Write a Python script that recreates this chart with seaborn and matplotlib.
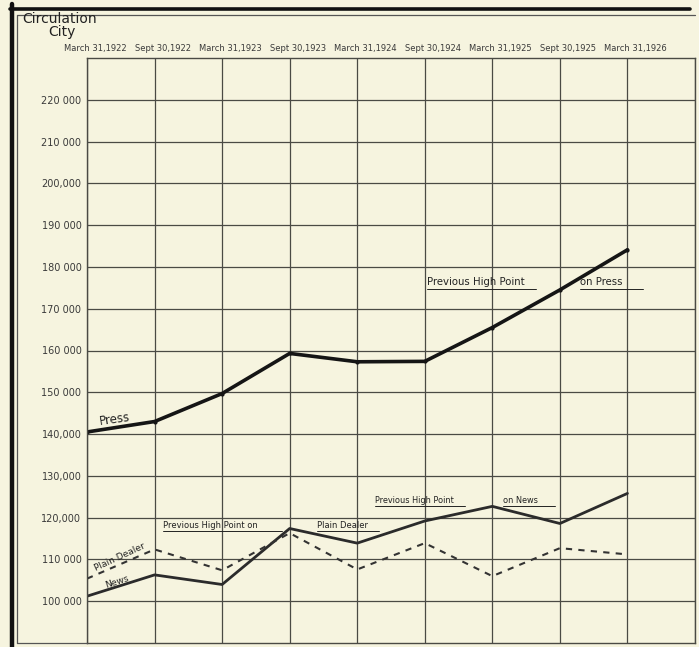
import pandas as pd
import seaborn as sns
import matplotlib.pyplot as plt
from matplotlib.lines import Line2D

# dates along the top of the sheet
dates = ["March 31,1922", "Sept 30,1922", "March 31,1923", "Sept 30,1923",
         "March 31,1924", "Sept 30,1924", "March 31,1925", "Sept 30,1925",
         "March 31,1926"]

# city circulation
press = [140500, 143000, 149700, 159300, 157300, 157400, 165500, 174500, 184100]
news = [101200, 106300, 104000, 117400, 113900, 119200, 122700, 118600, 125800]
plain_dealer = [105400, 112400, 107400, 116300, 107600, 113900, 106000, 112700, 111200]

y_ticks = [100000, 110000, 120000, 130000, 140000, 150000, 160000,
           170000, 180000, 190000, 200000, 210000, 220000]
y_labels = ["100 000", "110 000", "120,000", "130,000", "140,000", "150 000",
            "160 000", "170 000", "180 000", "190 000", "200,000", "210 000",
            "220 000"]

paper_bg = "#f6f4df"
ink = "#222222"

df = pd.DataFrame({
    "period": list(range(len(dates))) * 3,
    "value": press + news + plain_dealer,
    "paper": ["Press"] * 9 + ["News"] * 9 + ["Plain Dealer"] * 9,
})

sns.set_theme(style="white")
plt.rcParams["font.family"] = ["DejaVu Sans"]

fig = plt.figure(figsize=(6.99, 6.47), dpi=100, facecolor=paper_bg)
ax = fig.add_axes([87 / 699, 4 / 647, 608 / 699, 585 / 647])
ax.set_facecolor(paper_bg)

sns.lineplot(data=df[df.paper == "Press"], x="period", y="value", ax=ax,
             color="#151515", linewidth=2.6, marker="o", markersize=3,
             markeredgewidth=0)
sns.lineplot(data=df[df.paper == "News"], x="period", y="value", ax=ax,
             color="#2b2b2b", linewidth=2.0)
sns.lineplot(data=df[df.paper == "Plain Dealer"], x="period", y="value", ax=ax,
             color="#333333", linewidth=1.5, linestyle=(0, (3, 3)))

ax.set_xlim(0, 9)
ax.set_ylim(90000, 230000)
ax.set_xticks(range(10))
ax.set_yticks(y_ticks)
ax.set_yticklabels(y_labels, fontsize=7, color="#3a3a3a")
ax.tick_params(axis="x", length=0, labelbottom=False, labeltop=False)
ax.tick_params(axis="y", length=0, pad=4)
ax.grid(True, color="#4a4a44", linewidth=0.9)
ax.set_xlabel("")
ax.set_ylabel("")
for s in ax.spines.values():
    s.set_color("#4a4a44")
    s.set_linewidth(1.0)

top = ax.get_xaxis_transform()
for i, d in enumerate(dates):
    ax.text(i + 0.12, 1.008, d, transform=top, ha="center", va="bottom",
            fontsize=6, color="#3a3a3a")

fig.text(22 / 699, 1 - 19 / 647, "Circulation", fontsize=10, color=ink,
         va="center", ha="left")
fig.text(48 / 699, 1 - 32 / 647, "City", fontsize=10, color=ink,
         va="center", ha="left")

# line names on the left
ax.text(0.41, 143600, "Press", fontsize=8.5, rotation=8, color=ink,
        ha="center", va="center")
ax.text(0.49, 110600, "Plain Dealer", fontsize=6.5, rotation=25, color=ink,
        ha="center", va="center")
ax.text(0.45, 104700, "News", fontsize=6.5, rotation=18, color=ink,
        ha="center", va="center")


def underlined(x0, x1, y, yline, text, size):
    ax.text(x0, y, text, fontsize=size, color=ink, ha="left", va="center")
    ax.plot([x0, x1], [yline, yline], color=ink, linewidth=0.7)


underlined(5.03, 6.65, 176300, 174600, "Previous High Point", 7.3)
underlined(7.30, 8.23, 176300, 174600, "on Press", 7.3)
underlined(4.26, 5.60, 124000, 122700, "Previous High Point", 5.9)
underlined(6.16, 6.93, 124000, 122700, "on News", 5.9)
underlined(1.12, 2.89, 118000, 116900, "Previous High Point on", 6.0)
underlined(3.40, 4.32, 118000, 116900, "Plain Dealer", 6.0)

# sheet border
fig.add_artist(Line2D([12 / 699, 12 / 699], [0, 1 - 4 / 647],
                      transform=fig.transFigure, color="#111111", linewidth=3.2))
fig.add_artist(Line2D([10 / 699, 690 / 699], [1 - 9 / 647, 1 - 9 / 647],
                      transform=fig.transFigure, color="#111111", linewidth=2.6))
fig.add_artist(Line2D([17 / 699, 17 / 699], [4 / 647, 1 - 15 / 647],
                      transform=fig.transFigure, color="#555555", linewidth=0.9))
fig.add_artist(Line2D([17 / 699, 695 / 699], [1 - 15 / 647, 1 - 15 / 647],
                      transform=fig.transFigure, color="#555555", linewidth=0.9))
fig.add_artist(Line2D([17 / 699, 87 / 699], [4 / 647, 4 / 647],
                      transform=fig.transFigure, color="#555555", linewidth=0.9))

fig.savefig("out.png", dpi=100, facecolor=paper_bg)
